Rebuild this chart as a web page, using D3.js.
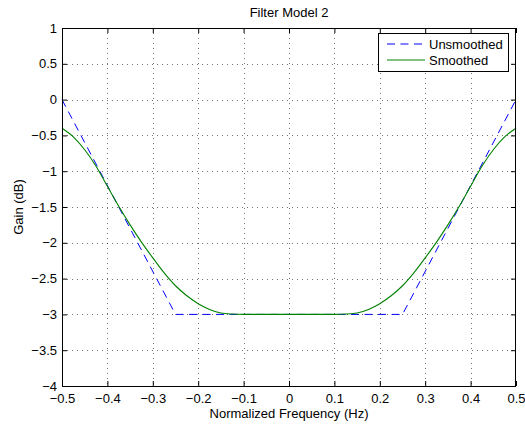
<!DOCTYPE html>
<html><head><meta charset="utf-8">
<script src="https://cdn.jsdelivr.net/npm/d3@7/dist/d3.min.js"></script>
<style>body{margin:0;background:#fff;} svg{display:block;font-family:"Liberation Sans",Arial,Helvetica,sans-serif;}</style>
</head><body>
<script>
// ---- data ----
const title = "Filter Model 2";
const xLabel = "Normalized Frequency (Hz)";
const yLabel = "Gain (dB)";
const xTicks = [-0.5,-0.4,-0.3,-0.2,-0.1,0,0.1,0.2,0.3,0.4,0.5];
const yTicks = [-4,-3.5,-3,-2.5,-2,-1.5,-1,-0.5,0,0.5,1];
const unsmFreq = [-0.5,-0.25,0.25,0.5];
const unsmGain = [0,-3,-3,0];
const smFreq = [-0.5,-0.475,-0.45,-0.425,-0.4,-0.375,-0.35,-0.325,-0.3,-0.275,-0.25,-0.225,-0.2,-0.175,-0.15,-0.125,-0.1,-0.075,-0.05,-0.025,0,
                0.025,0.05,0.075,0.1,0.125,0.15,0.175,0.2,0.225,0.25,0.275,0.3,0.325,0.35,0.375,0.4,0.425,0.45,0.475,0.5];
const smGain = [-0.40,-0.52,-0.70,-0.93,-1.21,-1.49,-1.75,-1.99,-2.21,-2.42,-2.60,-2.74,-2.85,-2.93,-2.98,-2.995,-3,-3,-3,-3,-3,
                -3,-3,-3,-3,-2.995,-2.98,-2.93,-2.85,-2.74,-2.60,-2.42,-2.21,-1.99,-1.75,-1.49,-1.21,-0.93,-0.70,-0.52,-0.40];
const seriesNames = ["Unsmoothed","Smoothed"];
const seriesColors = ["#0000ff","#008000"];

// ---- layout ----
const W = 525, H = 426;
const m = {left:62, right:9, top:28, bottom:40};
const pw = W - m.left - m.right, ph = H - m.top - m.bottom;
const FS = "13px";

const svg = d3.select("body").append("svg").attr("width",W).attr("height",H);
const g = svg.append("g").attr("transform",`translate(${m.left},${m.top})`);

const x = d3.scaleLinear().domain([-0.5,0.5]).range([0,pw]);
const y = d3.scaleLinear().domain([-4,1]).range([ph,0]);
const fmt = v => { const s = d3.format("")(+v.toFixed(2)); return s.replace("-","\u2212"); };

g.append("rect").attr("width",pw).attr("height",ph).attr("fill","#fff");

// grid
const grid = g.append("g").attr("stroke","#000").attr("stroke-opacity",0.55).attr("stroke-width",1).attr("stroke-dasharray","1,4");
grid.selectAll(".gx").data(xTicks.slice(1,-1)).enter().append("line")
  .attr("x1",d=>Math.round(x(d))+0.5).attr("x2",d=>Math.round(x(d))+0.5).attr("y1",0).attr("y2",ph);
grid.selectAll(".gy").data(yTicks.slice(1,-1)).enter().append("line")
  .attr("y1",d=>Math.round(y(d))+0.5).attr("y2",d=>Math.round(y(d))+0.5).attr("x1",0).attr("x2",pw);

// lines
const line = d3.line().x(d=>x(d[0])).y(d=>y(d[1]));
g.append("path").datum(unsmFreq.map((f,i)=>[f,unsmGain[i]]))
  .attr("d",line).attr("fill","none").attr("stroke",seriesColors[0]).attr("stroke-width",1).attr("stroke-dasharray","8,5.5");
g.append("path").datum(smFreq.map((f,i)=>[f,smGain[i]]))
  .attr("d",line.curve(d3.curveMonotoneX)).attr("fill","none").attr("stroke",seriesColors[1]).attr("stroke-width",1.1);

// axes (ticks inward on all sides)
const tl = 5;
const axB = g.append("g").attr("transform",`translate(0,${ph})`)
  .call(d3.axisBottom(x).tickValues(xTicks).tickSizeInner(-tl).tickSizeOuter(0).tickPadding(8).tickFormat(fmt));
const axT = g.append("g").call(d3.axisTop(x).tickValues(xTicks).tickSizeInner(-tl).tickSizeOuter(0).tickFormat(""));
const axL = g.append("g").call(d3.axisLeft(y).tickValues(yTicks).tickSizeInner(-tl).tickSizeOuter(0).tickPadding(5).tickFormat(fmt));
const axR = g.append("g").attr("transform",`translate(${pw},0)`)
  .call(d3.axisRight(y).tickValues(yTicks).tickSizeInner(-tl).tickSizeOuter(0).tickFormat(""));
[axB,axT,axL,axR].forEach(a=>{ a.select(".domain").remove(); a.selectAll("line").attr("stroke","#000");
  a.selectAll("text").attr("fill","#000").style("font-size",FS).style("font-family",'"Liberation Sans",Arial,sans-serif'); });
g.append("rect").attr("x",0.5).attr("y",0.5).attr("width",pw-1).attr("height",ph).attr("fill","none").attr("stroke","#000").attr("stroke-width",1);

// titles
svg.append("text").attr("x",m.left+pw/2).attr("y",17).attr("text-anchor","middle").style("font-size",FS).text(title);
svg.append("text").attr("x",m.left+pw/2).attr("y",418).attr("text-anchor","middle").style("font-size",FS).text(xLabel);
svg.append("text").attr("transform",`translate(23,${m.top+ph/2}) rotate(-90)`).attr("text-anchor","middle").style("font-size",FS).text(yLabel);

// legend
const lg = g.append("g").attr("transform",`translate(${pw-138},5)`);
lg.append("rect").attr("x",0.5).attr("y",0.5).attr("width",130).attr("height",38).attr("fill","#fff").attr("stroke","#000").attr("stroke-width",1);
seriesNames.forEach((n,i)=>{
  const yy = 11 + i*16;
  lg.append("line").attr("x1",9).attr("x2",47).attr("y1",yy).attr("y2",yy)
    .attr("stroke",seriesColors[i]).attr("stroke-width",1).attr("stroke-dasharray", i===0?"8,5.5":null);
  lg.append("text").attr("x",51).attr("y",yy).attr("dy","0.35em").style("font-size",FS).text(n);
});
</script>
</body></html>
